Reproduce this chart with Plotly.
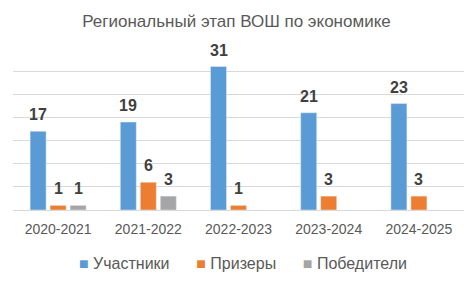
import plotly.graph_objects as go

categories = ["2020-2021", "2021-2022", "2022-2023", "2023-2024", "2024-2025"]
participants = [17, 19, 31, 21, 23]
prizewinners = [1, 6, 1, 3, 3]
winners = [1, 3, None, None, None]

series = [
    ("Участники", participants, "#5B9BD5"),
    ("Призеры", prizewinners, "#ED7D31"),
    ("Победители", winners, "#A5A5A5"),
]

FONT = "Liberation Sans, Arial, sans-serif"
slot_px = [-20, 0, 20]

fig = go.Figure()
for i, (name, vals, color) in enumerate(series):
    fig.add_trace(go.Bar(x=categories, y=vals, name=name, marker_color=color,
                         showlegend=False))
    for c, v in zip(categories, vals):
        if v is None:
            continue
        fig.add_annotation(x=c, y=v, xref="x", yref="y", text=f"<b>{v}</b>",
                           showarrow=False, xshift=slot_px[i], yshift=6,
                           yanchor="bottom", xanchor="center",
                           font=dict(family=FONT, size=16, color="#404040"))

legend_text = "&nbsp;&nbsp;&nbsp;&nbsp;&nbsp;&nbsp;".join(
    f"<span style='color:{color}'>■</span> {name}" for name, _, color in series)
fig.add_annotation(x=(243 - 13) / 451, y=-53 / 162, xref="paper", yref="paper",
                   text=legend_text, showarrow=False, xanchor="center", yanchor="middle",
                   font=dict(family=FONT, size=16, color="#595959"))

fig.update_layout(
    width=473, height=287,
    margin=dict(l=13, r=9, t=48, b=77),
    paper_bgcolor="white", plot_bgcolor="white",
    barmode="group", bargap=0.335, bargroupgap=0.2,
    title=dict(text="Региональный этап ВОШ по экономике", x=0.5, xanchor="center",
               y=1 - 21 / 287, yanchor="middle",
               font=dict(family=FONT, size=17, color="#595959")),
    font=dict(family=FONT, color="#595959"),
    showlegend=False,
    yaxis=dict(range=[0, 35], dtick=5, showticklabels=False, gridcolor="#D9D9D9",
               gridwidth=1, zeroline=True, zerolinecolor="#D9D9D9", zerolinewidth=1,
               fixedrange=True),
    xaxis=dict(tickfont=dict(family=FONT, size=14, color="#595959"), showline=False,
               ticks="", ticklabelstandoff=9),
)

fig.write_html("out.html")
